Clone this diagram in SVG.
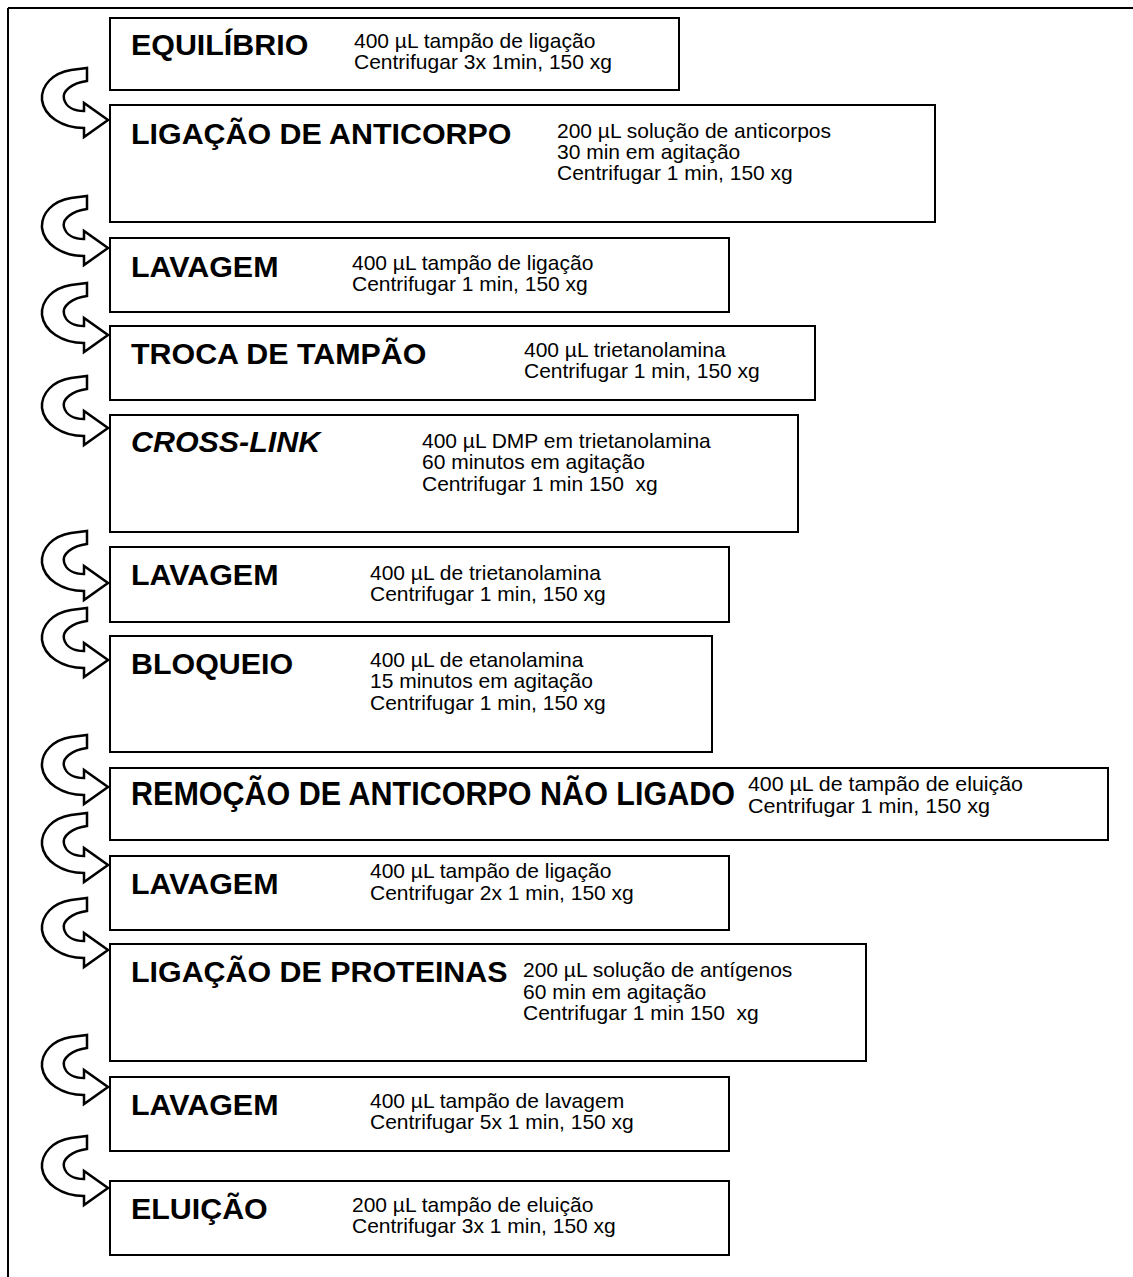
<svg xmlns="http://www.w3.org/2000/svg" width="1133" height="1277" viewBox="0 0 1133 1277">
<style>
.box{fill:#fff;stroke:#000;stroke-width:2}
.t{font-family:"Liberation Sans",Arial,sans-serif;font-weight:bold;font-size:30.4px;fill:#000}
.b{font-family:"Liberation Sans",Arial,sans-serif;font-size:21px;fill:#000;white-space:pre}
.arr{fill:#fff;stroke:#000;stroke-width:2.5;stroke-linejoin:miter}
</style>
<defs>
<path id="ca" class="arr" d="M -37,-50 L -21,-52 L -21,-39 C -36,-37 -46,-29 -44,-21 C -42,-13 -34,-9 -24,-9 L -24,-17 L 0,0 L -24,17 L -24,8 C -46,8 -64,-4 -66,-20 C -67,-35 -55,-47 -37,-50 Z"/>
</defs>
<rect width="1133" height="1277" fill="#fff"/>
<g id="frame" fill="none" stroke="#000" stroke-width="2">
<line x1="8" y1="8" x2="1133" y2="8"/>
<line x1="8" y1="8" x2="8" y2="1277"/>
</g>
<g id="connectors">
<use href="#ca" transform="translate(108,120)"/>
<use href="#ca" transform="translate(108,248)"/>
<use href="#ca" transform="translate(108,335)"/>
<use href="#ca" transform="translate(108,428)"/>
<use href="#ca" transform="translate(108,583)"/>
<use href="#ca" transform="translate(108,660)"/>
<use href="#ca" transform="translate(108,787)"/>
<use href="#ca" transform="translate(108,865)"/>
<use href="#ca" transform="translate(108,950)"/>
<use href="#ca" transform="translate(108,1087)"/>
<use href="#ca" transform="translate(108,1188)"/>
</g>
<g id="n1"><rect class="box" x="110" y="18" width="569" height="72"/>
<text class="t" x="131" y="55">EQUILÍBRIO</text>
<text class="b" x="354" y="48">400 µL tampão de ligação</text>
<text class="b" x="354" y="69">Centrifugar 3x 1min, 150 xg</text></g>
<g id="n2"><rect class="box" x="110" y="105" width="825" height="117"/>
<text class="t" x="131" y="144">LIGAÇÃO DE ANTICORPO</text>
<text class="b" x="557" y="138">200 µL solução de anticorpos</text>
<text class="b" x="557" y="159">30 min em agitação</text>
<text class="b" x="557" y="180">Centrifugar 1 min, 150 xg</text></g>
<g id="n3"><rect class="box" x="110" y="238" width="619" height="74"/>
<text class="t" x="131" y="277">LAVAGEM</text>
<text class="b" x="352" y="270">400 µL tampão de ligação</text>
<text class="b" x="352" y="291">Centrifugar 1 min, 150 xg</text></g>
<g id="n4"><rect class="box" x="110" y="326" width="705" height="74"/>
<text class="t" x="131" y="364">TROCA DE TAMPÃO</text>
<text class="b" x="524" y="357">400 µL trietanolamina</text>
<text class="b" x="524" y="378">Centrifugar 1 min, 150 xg</text></g>
<g id="n5"><rect class="box" x="110" y="415" width="688" height="117"/>
<text class="t" x="131" y="452" font-style="italic">CROSS-LINK</text>
<text class="b" x="422" y="448">400 µL DMP em trietanolamina</text>
<text class="b" x="422" y="469">60 minutos em agitação</text>
<text class="b" x="422" y="491">Centrifugar 1 min 150  xg</text></g>
<g id="n6"><rect class="box" x="110" y="547" width="619" height="75"/>
<text class="t" x="131" y="585">LAVAGEM</text>
<text class="b" x="370" y="580">400 µL de trietanolamina</text>
<text class="b" x="370" y="601">Centrifugar 1 min, 150 xg</text></g>
<g id="n7"><rect class="box" x="110" y="636" width="602" height="116"/>
<text class="t" x="131" y="674">BLOQUEIO</text>
<text class="b" x="370" y="667">400 µL de etanolamina</text>
<text class="b" x="370" y="688">15 minutos em agitação</text>
<text class="b" x="370" y="710">Centrifugar 1 min, 150 xg</text></g>
<g id="n8"><rect class="box" x="110" y="768" width="998" height="72"/>
<text class="t" transform="translate(131,805) scale(1,1.12)" x="0" y="0" textLength="604" lengthAdjust="spacingAndGlyphs">REMOÇÃO DE ANTICORPO NÃO LIGADO</text>
<text class="b" x="748" y="791" textLength="275" lengthAdjust="spacingAndGlyphs">400 µL de tampão de eluição</text>
<text class="b" x="748" y="813" textLength="242" lengthAdjust="spacingAndGlyphs">Centrifugar 1 min, 150 xg</text></g>
<g id="n9"><rect class="box" x="110" y="856" width="619" height="74"/>
<text class="t" x="131" y="894">LAVAGEM</text>
<text class="b" x="370" y="878">400 µL tampão de ligação</text>
<text class="b" x="370" y="900">Centrifugar 2x 1 min, 150 xg</text></g>
<g id="n10"><rect class="box" x="110" y="944" width="756" height="117"/>
<text class="t" x="131" y="982">LIGAÇÃO DE PROTEINAS</text>
<text class="b" x="523" y="977">200 µL solução de antígenos</text>
<text class="b" x="523" y="999">60 min em agitação</text>
<text class="b" x="523" y="1020">Centrifugar 1 min 150  xg</text></g>
<g id="n11"><rect class="box" x="110" y="1077" width="619" height="74"/>
<text class="t" x="131" y="1115">LAVAGEM</text>
<text class="b" x="370" y="1108">400 µL tampão de lavagem</text>
<text class="b" x="370" y="1129">Centrifugar 5x 1 min, 150 xg</text></g>
<g id="n12"><rect class="box" x="110" y="1181" width="619" height="74"/>
<text class="t" x="131" y="1219">ELUIÇÃO</text>
<text class="b" x="352" y="1212">200 µL tampão de eluição</text>
<text class="b" x="352" y="1233">Centrifugar 3x 1 min, 150 xg</text></g>
</svg>
